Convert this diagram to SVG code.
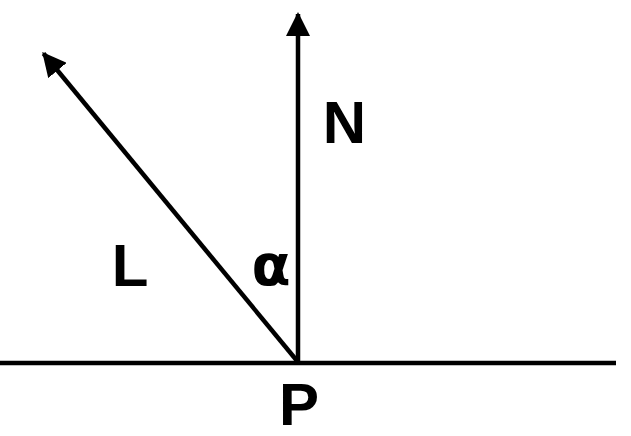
<svg xmlns="http://www.w3.org/2000/svg" width="631" height="436" viewBox="0 0 631 436">
<style>
.ln{stroke:#000;stroke-width:4.5;fill:none}
.lb{font-family:"Liberation Sans",Arial,sans-serif;font-weight:bold;font-size:60px;fill:#000;text-anchor:middle}
.al{font-family:"DejaVu Sans",sans-serif;font-weight:bold;font-size:57px;fill:#000;text-anchor:middle}
</style>
<defs>
<marker id="ah" viewBox="0 0 24 24" refX="22" refY="12" markerWidth="24" markerHeight="24" markerUnits="userSpaceOnUse" orient="auto">
<path d="M0,0 L24,12 L0,24 Z" fill="#000"/>
</marker>
</defs>
<rect width="631" height="436" fill="#fff"/>
<g id="connectors">
<line class="ln" x1="0" y1="363" x2="616" y2="363"/>
<line class="ln" x1="298" y1="363" x2="298" y2="14" marker-end="url(#ah)"/>
<line class="ln" x1="298" y1="362" x2="43.5" y2="53.5" marker-end="url(#ah)"/>
</g>
<g id="N"><text class="lb" x="344.5" y="143">N</text></g>
<g id="L"><text class="lb" x="130" y="286">L</text></g>
<g id="alpha"><text class="al" x="271" y="285">α</text></g>
<g id="P"><text class="lb" x="299" y="425">P</text></g>
</svg>
